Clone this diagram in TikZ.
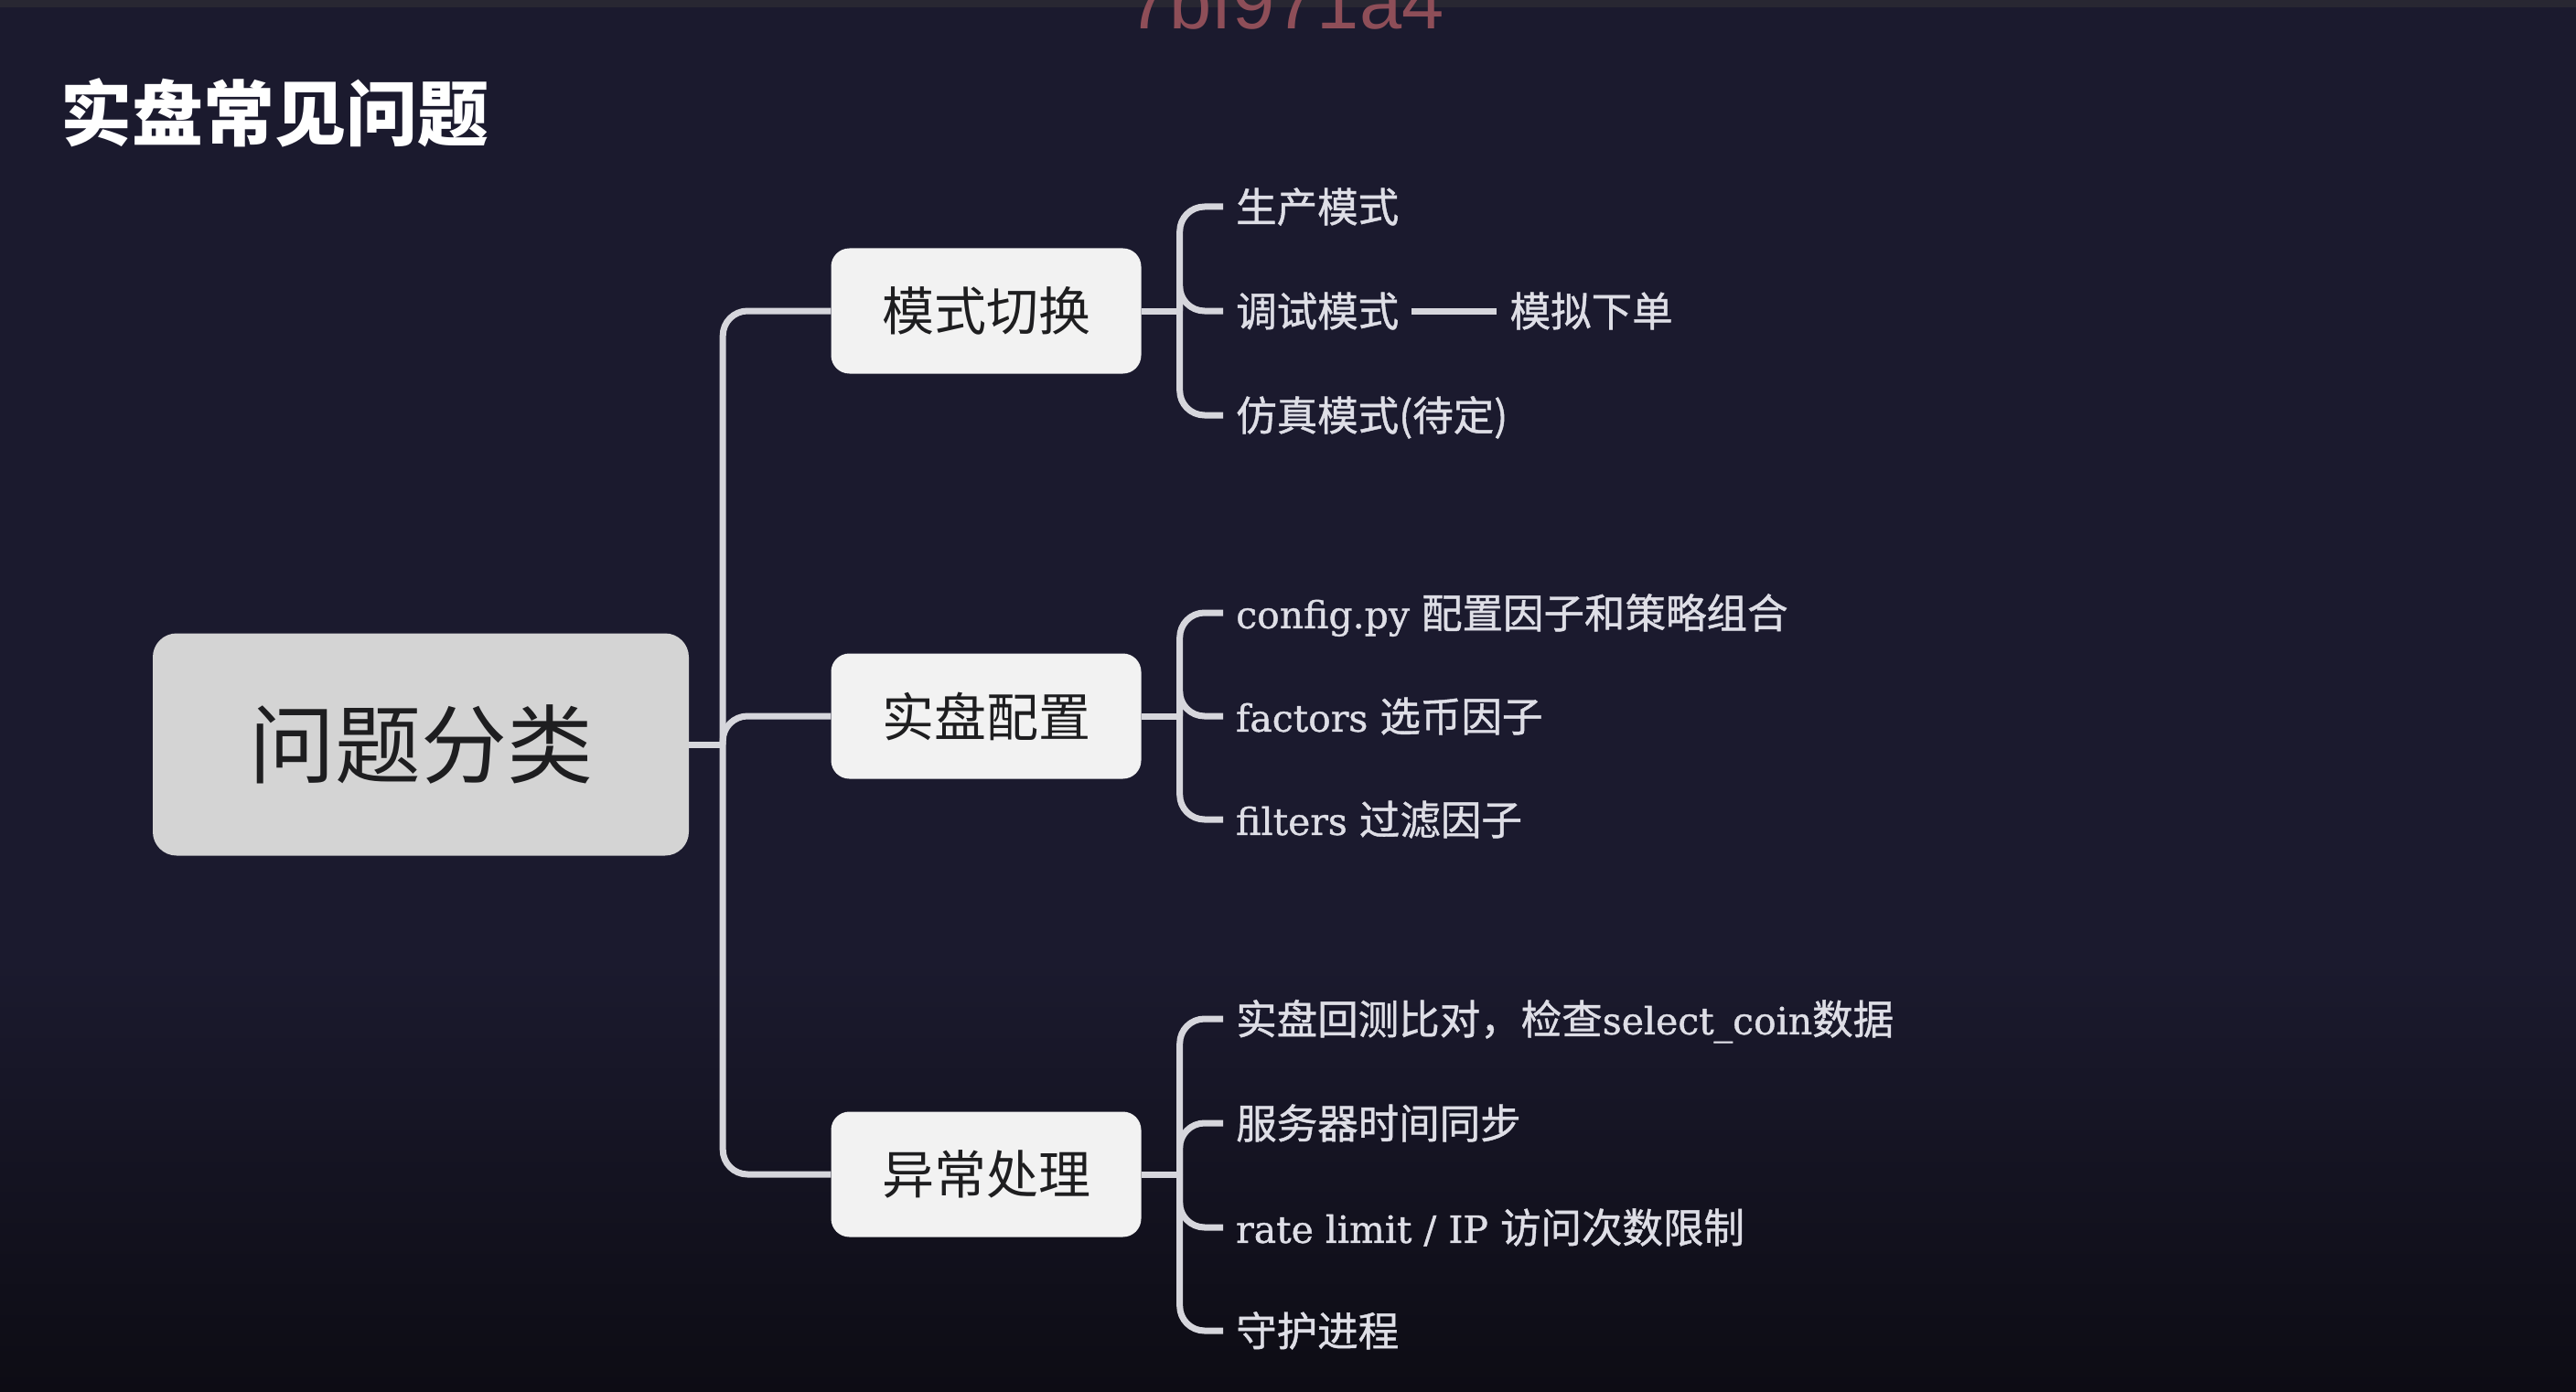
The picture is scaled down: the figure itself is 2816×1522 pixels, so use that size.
\documentclass[tikz,border=0pt]{standalone}
\usepackage{fontspec}
\setmainfont{DejaVu Serif}
\newfontfamily\cjk{Noto Sans CJK SC}
\newfontfamily\cjkleaf{Noto Sans CJK SC}[FakeBold=1]
\newfontfamily\latin{DejaVu Serif}[Scale=0.92, FakeBold=1]
\newfontfamily\wmfont{Liberation Sans}
\usetikzlibrary{positioning}

\definecolor{bgtop}{RGB}{27,26,46}
\definecolor{bgbot}{RGB}{13,12,20}
\definecolor{topstrip}{RGB}{40,39,50}
\definecolor{rootfill}{RGB}{212,212,212}
\definecolor{boxfill}{RGB}{242,242,242}
\definecolor{inkdark}{RGB}{30,30,32}
\definecolor{linkgray}{RGB}{214,214,220}
\definecolor{leafgray}{RGB}{222,222,230}
\definecolor{wmred}{RGB}{142,78,88}

\begin{document}
\begin{tikzpicture}[
    x=1pt, y=-1pt,
    % Define Styles
    rootbox/.style={
        rectangle,
        rounded corners=26pt,
        fill=rootfill,
        minimum width=586pt,
        minimum height=243pt,
        inner sep=0pt,
        text=inkdark,
        font=\cjk\fontsize{94}{100}\selectfont
    },
    branchbox/.style={
        rectangle,
        rounded corners=20pt,
        fill=boxfill,
        minimum width=339pt,
        minimum height=137pt,
        inner sep=0pt,
        text=inkdark,
        font=\cjk\fontsize{57}{62}\selectfont
    },
    leaf/.style={
        anchor=west,
        inner xsep=14pt,
        inner ysep=0pt,
        text=leafgray,
        text height=39pt,
        text depth=5.3pt,
        font=\cjkleaf\fontsize{44.5}{50}\selectfont
    },
    titletext/.style={
        anchor=west,
        inner sep=0pt,
        text=white,
        text height=68.6pt,
        text depth=9.4pt,
        font=\cjk\bfseries\fontsize{78}{84}\selectfont
    },
    wmtext/.style={
        anchor=base west,
        inner sep=0pt,
        text=wmred,
        font=\wmfont\fontsize{83}{90}\selectfont
    },
    link/.style={
        draw=linkgray,
        line width=7pt,
        rounded corners=27pt
    }
    ]

    % Background
    \useasboundingbox (0,0) rectangle (2816,1522);
    \fill[bgtop] (0,0) rectangle (2816,1522);
    \shade[top color=bgtop, bottom color=bgbot] (0,1050) rectangle (2816,1522);
    \fill[topstrip] (0,0) rectangle (2816,8);
    \node[wmtext] (wm) at (1232,32) {7bf971a4};

    % Title
    \node[titletext] (title) at (66,124) {实盘常见问题};

    % Nodes
    \node[rootbox] (root) at (460,814) {问题分类};
    \node[branchbox] (mode) at (1078,340) {模式切换};
    \node[branchbox] (conf) at (1078,783) {实盘配置};
    \node[branchbox] (err) at (1078,1284) {异常处理};

    % Leaves of mode
    \node[leaf] (m1) at (1337,226) {生产模式};
    \node[leaf] (m2) at (1337,340) {调试模式};
    \node[leaf] (m3) at (1337,454) {仿真模式(待定)};
    \node[leaf, right=93pt of m2] (m2b) {模拟下单};

    % Leaves of conf
    \node[leaf] (c1) at (1337,670) {{\latin config.py }配置因子和策略组合};
    \node[leaf] (c2) at (1337,783) {{\latin factors }选币因子};
    \node[leaf] (c3) at (1337,896) {{\latin filters }过滤因子};

    % Leaves of err
    \node[leaf] (e1) at (1337,1114) {实盘回测比对，检查{\latin select\_coin}数据};
    \node[leaf] (e2) at (1337,1228) {服务器时间同步};
    \node[leaf] (e3) at (1337,1342) {{\latin rate limit / IP }访问次数限制};
    \node[leaf] (e4) at (1337,1455) {守护进程};

    % Draw Edges

    % Trunk from root
    \draw[link] (root.east) -- ++(37,0) coordinate (hub);
    \draw[link] (hub) |- (mode.west);
    \draw[link] (hub) |- (conf.west);
    \draw[link] (hub) |- (err.west);

    % Brackets to leaves
    \draw[link] (mode.east) -- ++(42,0) coordinate (mhub);
    \foreach \n in {m1,m2,m3}
        \draw[link] (mhub) |- (\n.west);
    \draw[link] (m2.east) -- (m2b.west);

    \draw[link] (conf.east) -- ++(42,0) coordinate (chub);
    \foreach \n in {c1,c2,c3}
        \draw[link] (chub) |- (\n.west);

    \draw[link] (err.east) -- ++(42,0) coordinate (ehub);
    \foreach \n in {e1,e2,e3,e4}
        \draw[link] (ehub) |- (\n.west);

\end{tikzpicture}
\end{document}
